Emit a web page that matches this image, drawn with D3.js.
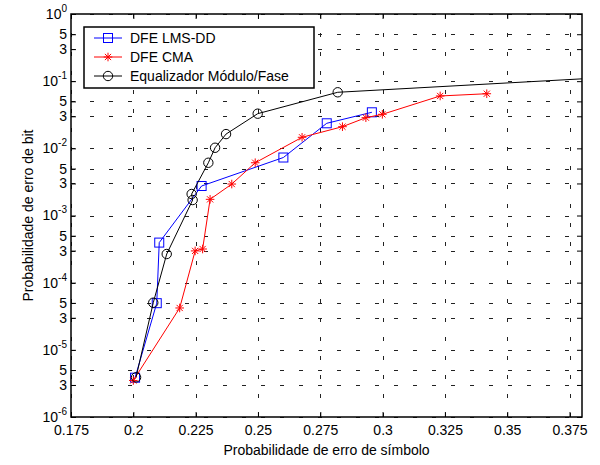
<!DOCTYPE html>
<html>
<head>
<meta charset="utf-8">
<script src="https://cdnjs.cloudflare.com/ajax/libs/d3/7.8.5/d3.min.js"></script>
<style>
  body { margin: 0; background: #fff; }
  text { font-family: "Liberation Sans", Arial, sans-serif; }
</style>
</head>
<body>
<svg width="600" height="465"></svg>
<script>
// series
var lmsX = [0.2007, 0.2094, 0.2104, 0.2274, 0.2602, 0.2776, 0.2957];
var lmsY = [3.85e-6, 4.95e-5, 3.95e-4, 2.75e-3, 7.3e-3, 2.36e-2, 3.44e-2];

var cmaX = [0.2000, 0.2186, 0.2248, 0.2278, 0.2308, 0.2395, 0.2489, 0.2677, 0.2839, 0.2933, 0.2999, 0.3231, 0.3418];
var cmaY = [3.5e-6, 4.2e-5, 2.97e-4, 3.17e-4, 1.74e-3, 2.94e-3, 6.1e-3, 1.46e-2, 2.1e-2, 2.86e-2, 3.21e-2, 6.02e-2, 6.5e-2];

var modX = [0.2011, 0.2080, 0.2134, 0.2238, 0.2234, 0.2301, 0.2328, 0.2372, 0.2499, 0.2820, 0.40];
var modY = [3.9e-6, 5.03e-5, 2.67e-4, 1.70e-3, 2.09e-3, 6.1e-3, 1.02e-2, 1.63e-2, 3.28e-2, 6.83e-2, 0.119];

var xTicks = [0.175, 0.2, 0.225, 0.25, 0.275, 0.3, 0.325, 0.35, 0.375];
var yExp = [-6, -5, -4, -3, -2, -1, 0];
var yMinor = [3, 5];

var legendNames = ["DFE LMS-DD", "DFE CMA", "Equalizador Módulo/Fase"];

var svg = d3.select("svg");
var L = 71, R = 582, T = 14, B = 417;

var x = d3.scaleLinear().domain([0.175, 0.38]).range([L, R]);
var y = d3.scaleLog().domain([1e-6, 1]).range([B, T]);

var yTicks = [];
yExp.forEach(function(k){
  yTicks.push(Math.pow(10, k));
  if (k < 0) yMinor.forEach(function(m){ yTicks.push(m * Math.pow(10, k)); });
});

// grid
var grid = svg.append("g").attr("stroke", "#222").attr("stroke-width", 1)
  .attr("stroke-dasharray", "4,15").attr("fill", "none");
yTicks.forEach(function(v){
  grid.append("path").attr("d", "M" + L + "," + (Math.round(y(v)) + 0.5) + "H" + R);
});
xTicks.forEach(function(v){
  grid.append("path").attr("d", "M" + (Math.round(x(v)) + 0.5) + "," + B + "V" + T);
});

// axes
var fmtX = function(d){ return String(+d.toFixed(3)); };
svg.append("g").attr("transform", "translate(0," + B + ")")
  .call(d3.axisBottom(x).tickValues(xTicks).tickFormat(fmtX).tickSizeInner(-5).tickSizeOuter(0).tickPadding(8))
  .call(function(g){ g.select(".domain").remove(); });
svg.append("g").attr("transform", "translate(0," + T + ")")
  .call(d3.axisTop(x).tickValues(xTicks).tickFormat("").tickSizeInner(-5).tickSizeOuter(0))
  .call(function(g){ g.select(".domain").remove(); });
var yAx = svg.append("g").attr("transform", "translate(" + L + ",0)")
  .call(d3.axisLeft(y).tickValues(yTicks).tickFormat("").tickSizeInner(-5).tickSizeOuter(0).tickPadding(4))
  .call(function(g){ g.select(".domain").remove(); });
svg.append("g").attr("transform", "translate(" + R + ",0)")
  .call(d3.axisRight(y).tickValues(yTicks).tickFormat("").tickSizeInner(-5).tickSizeOuter(0))
  .call(function(g){ g.select(".domain").remove(); });

svg.selectAll(".tick line").attr("stroke", "#000");
svg.selectAll(".tick text").attr("font-size", 14).attr("fill", "#000")
  .attr("font-family", "'Liberation Sans', Arial, sans-serif");

yAx.selectAll(".tick text").each(function(d){
  var t = d3.select(this);
  var e = Math.floor(Math.log10(d) + 1e-9);
  var m = Math.round(d / Math.pow(10, e));
  if (m === 1) {
    t.append("tspan").text("10");
    t.append("tspan").attr("dy", -7).attr("font-size", 10).text(String(e));
  } else {
    t.text(String(m));
  }
});

svg.append("rect").attr("x", L).attr("y", T).attr("width", R - L).attr("height", B - T)
  .attr("fill", "none").attr("stroke", "#000").attr("stroke-width", 1.5);

// titles
svg.append("text").attr("x", (L + R) / 2).attr("y", 455).attr("text-anchor", "middle")
  .attr("font-size", 14).text("Probabilidade de erro de símbolo");
svg.append("text").attr("transform", "translate(33," + ((T + B) / 2) + ") rotate(-90)")
  .attr("text-anchor", "middle").attr("font-size", 14).text("Probabilidade de erro de bit");

// series
svg.append("clipPath").attr("id", "clip").append("rect")
  .attr("x", L).attr("y", T).attr("width", R - L).attr("height", B - T);
var plot = svg.append("g").attr("clip-path", "url(#clip)");

function zip(xs, ys){ return xs.map(function(v, i){ return [v, ys[i]]; }); }
var line = d3.line().x(function(d){ return x(d[0]); }).y(function(d){ return y(d[1]); });

function marker(g, type, color){
  if (type === "square") {
    g.append("rect").attr("x", -4.5).attr("y", -4.5).attr("width", 9).attr("height", 9)
      .attr("fill", "none").attr("stroke", color);
  } else if (type === "circle") {
    g.append("circle").attr("r", 4.7).attr("fill", "none").attr("stroke", color);
  } else {
    var r = 4.3, q = r * 0.72;
    g.append("path").attr("d", "M" + (-r) + ",0H" + r + "M0," + (-r) + "V" + r +
      "M" + (-q) + "," + (-q) + "L" + q + "," + q + "M" + (-q) + "," + q + "L" + q + "," + (-q))
      .attr("stroke", color).attr("fill", "none");
  }
}

var series = [
  { data: zip(lmsX, lmsY), color: "#0000ff", mark: "square" },
  { data: zip(cmaX, cmaY), color: "#ff0000", mark: "star" },
  { data: zip(modX, modY), color: "#000000", mark: "circle" }
];

series.forEach(function(s){
  plot.append("path").datum(s.data).attr("d", line)
    .attr("fill", "none").attr("stroke", s.color).attr("stroke-width", 1);
  plot.selectAll(null).data(s.data).enter().append("g")
    .attr("transform", function(d){ return "translate(" + x(d[0]) + "," + y(d[1]) + ")"; })
    .each(function(){ marker(d3.select(this), s.mark, s.color); });
});

// legend
var lg = svg.append("g");
lg.append("rect").attr("x", 84).attr("y", 27).attr("width", 230).attr("height", 61)
  .attr("fill", "#fff").attr("stroke", "#000").attr("stroke-width", 1.5);
series.forEach(function(s, i){
  var cy = 38 + i * 19;
  lg.append("line").attr("x1", 94).attr("x2", 122).attr("y1", cy).attr("y2", cy)
    .attr("stroke", s.color);
  marker(lg.append("g").attr("transform", "translate(108," + cy + ")"), s.mark, s.color);
  lg.append("text").attr("x", 130).attr("y", cy + 5).attr("font-size", 14).text(legendNames[i]);
});
</script>
</body>
</html>
